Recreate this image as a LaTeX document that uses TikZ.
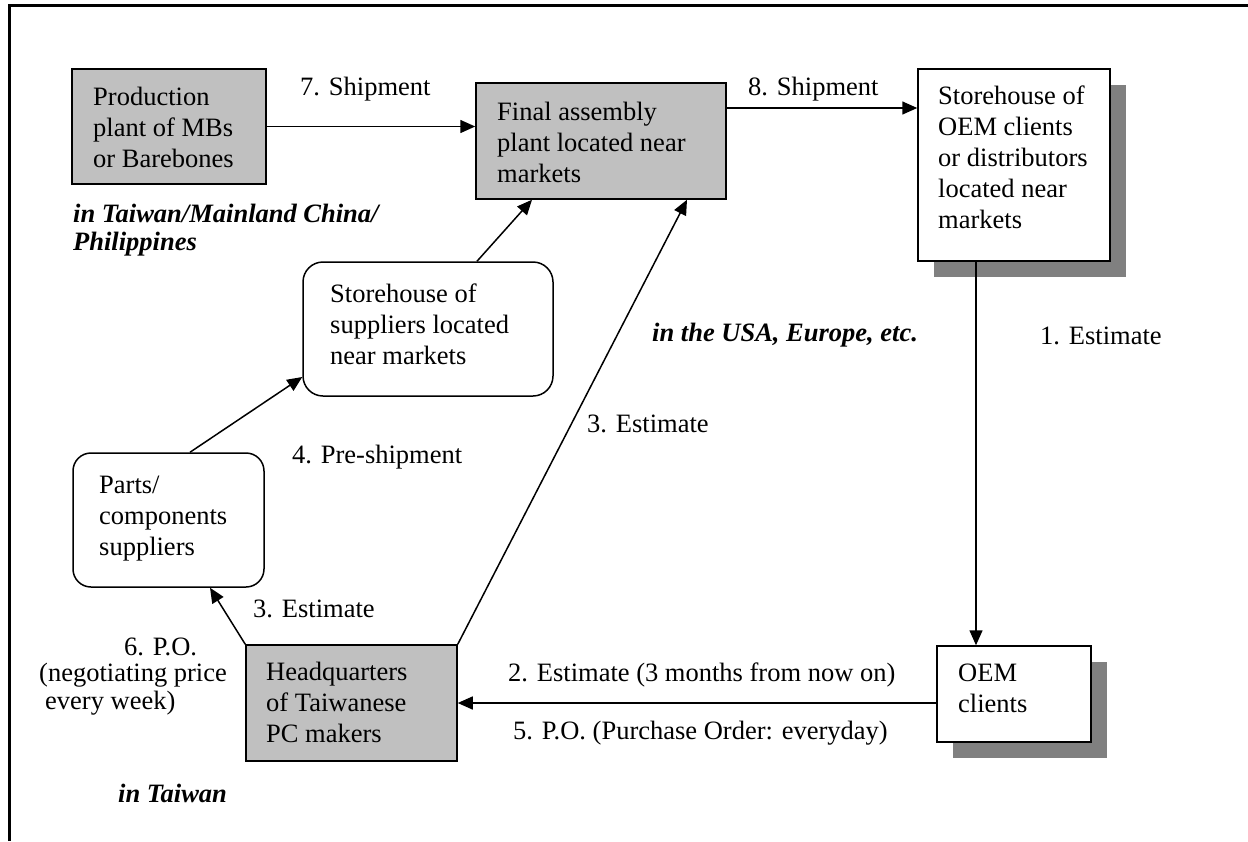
\documentclass[tikz,border=0pt]{standalone}
\usepackage{fontspec}
\setmainfont{Liberation Serif}
\usetikzlibrary{arrows.meta,shadows}
\definecolor{boxgray}{HTML}{C0C0C0}
\definecolor{shadegray}{HTML}{808080}
\begin{document}
\begin{tikzpicture}[x=1pt,y=-1pt,
  gbox/.style={draw, line width=1.5pt, fill=boxgray, inner sep=0pt},
  wbox/.style={draw, line width=1.5pt, fill=white, inner sep=0pt},
  sbox/.style={wbox, drop shadow={shadow xshift=16pt, shadow yshift=-16pt, fill=shadegray, opacity=1}},
  rbox/.style={wbox, rounded corners=20pt},
  txt/.style={font=\fontsize{26.5}{31}\selectfont, inner sep=0pt, anchor=base west, align=left},
  btxt/.style={txt, font=\fontsize{26.5}{28}\selectfont\bfseries\itshape},
  arr/.style={line width=1.5pt, -{Triangle[length=15pt,width=13pt]}}]
\useasboundingbox (0,0) rectangle (1248,841);
% frame
\draw[line width=3.5pt] (9.5,841) -- (9.5,5.5) -- (1248,5.5);
% boxes
\node[gbox, minimum width=194pt, minimum height=115pt] (prod) at (169,126.5) {};
\node[gbox, minimum width=250pt, minimum height=116pt] (final) at (601,141) {};
\node[sbox, minimum width=192pt, minimum height=192pt] (stoOEM) at (1014,165) {};
\node[sbox, minimum width=154pt, minimum height=96pt] (oem) at (1014,694) {};
\node[gbox, minimum width=211pt, minimum height=116pt] (hq) at (351.5,703) {};
\node[rbox, minimum width=250pt, minimum height=134pt] (sup) at (428,329) {};
\node[rbox, rounded corners=18pt, minimum width=191pt, minimum height=134pt] (parts) at (168.5,520) {};
% box texts (anchored at the baseline of the last line)
\node[txt] (tprod) at (93,167) {Production\\plant of MBs\\or Barebones};
\node[txt] (tfinal) at (497,182) {Final assembly\\plant located near\\markets};
\node[txt] (tsto) at (938,228) {Storehouse of\\OEM clients\\or distributors\\located near\\markets};
\node[txt] (toem) at (958,712) {OEM\\clients};
\node[txt] (thq) at (266,742) {Headquarters\\of Taiwanese\\PC makers};
\node[txt] (tsup) at (330,364) {Storehouse of\\suppliers located\\near markets};
\node[txt] (tparts) at (99,555) {Parts/\\components\\suppliers};
% labels
\node[txt] (l7) at (300,95) {7. Shipment};
\node[txt] (l8) at (748,95) {8. Shipment};
\node[txt] (l1) at (1040,344) {1. Estimate};
\node[btxt] (lusa) at (652,341) {in the USA, Europe, etc.};
\node[txt] (l3r) at (587,432) {3. Estimate};
\node[txt] (l4) at (292,463) {4. Pre-shipment};
\node[txt] (l3l) at (253,617) {3. Estimate};
\node[txt] (l2) at (508,681) {2. Estimate (3 months from now on)};
\node[txt] (l5) at (513,739) {5. P.O. (Purchase Order: everyday)};
\node[txt] (l6) at (124,655) {6. P.O.};
\node[txt, font=\fontsize{26.5}{28}\selectfont] (l6b) at (39,709) {(negotiating price\\\hspace*{6pt}every week)};
\node[btxt] (ltw) at (73,250) {in Taiwan/Mainland China/\\Philippines};
\node[btxt] (ltaiwan) at (118,802) {in Taiwan};
% connectors
\coordinate (a8) at (0,108);
\coordinate (a1) at (976,0);
\coordinate (a3a) at (210,0);
\coordinate (a3b) at (687,0);
\coordinate (a4s) at (190,0);
\coordinate (a4e) at (0,377);
\coordinate (asS) at (477,0);
\coordinate (asE) at (532,0);
\draw[arr] (prod.east) -- (prod.east -| final.west);
\draw[arr] (final.east |- a8) -- (stoOEM.west |- a8);
\draw[arr] (stoOEM.south -| a1) -- (oem.north -| a1);
\draw[arr] (oem.west |- hq.east) -- (hq.east);
\draw[arr] (hq.north west) -- (parts.south -| a3a);
\draw[arr] (hq.north east) -- (final.south -| a3b);
\draw[arr] (parts.north -| a4s) -- (sup.west |- a4e);
\draw[arr] (sup.north -| asS) -- (final.south -| asE);
\end{tikzpicture}
\end{document}
